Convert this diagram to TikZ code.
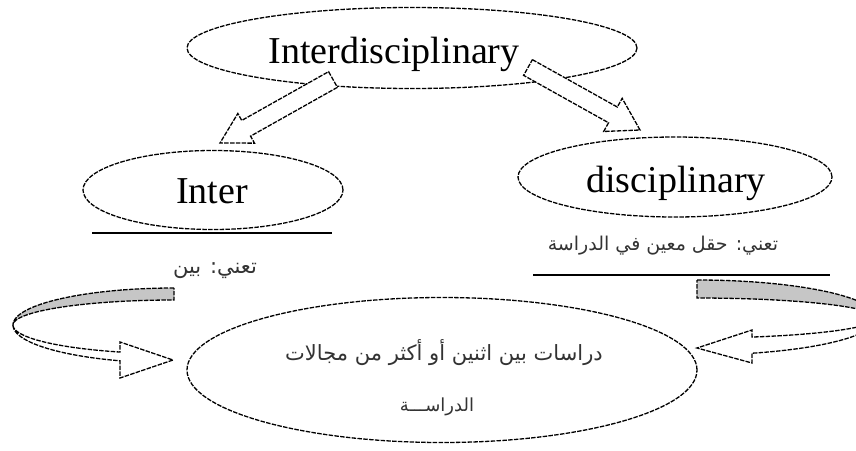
\documentclass[tikz,border=0pt]{standalone}
\usepackage{fontspec}
\setmainfont{Liberation Serif}
\newfontfamily\arabicfont[Script=Arabic]{DejaVu Sans}
\TeXXeTstate=1
\usetikzlibrary{shapes.geometric,calc}
\tikzset{
  outl/.style={draw=black, line width=1.3pt, dash pattern=on 4.5pt off 1.3pt},
  oval/.style={ellipse, outl, fill=white, inner sep=0pt},
  en/.style={font=\fontsize{38}{40}\selectfont, inner sep=0pt, anchor=base},
  ar/.style={font=\arabicfont, text=black!80, inner sep=0pt},
  uline/.style={draw=black, line width=1.5pt},
  band/.style={outl, fill=gray!45},
  blk/.style={outl, fill=white, line join=miter},
}
\newcommand{\blockarr}[5]{%
  \path ($(#2)!#5!(#1)$) coordinate (hb);
  \draw[blk] ($(#1)!#3!90:(#2)$) -- ($(hb)!#3!90:(#2)$) -- ($(hb)!#4!90:(#2)$)
    -- (#2) -- ($(hb)!#4!-90:(#2)$) -- ($(hb)!#3!-90:(#2)$) -- ($(#1)!#3!-90:(#2)$) -- cycle;
}
\begin{document}
\begin{tikzpicture}[x=1pt,y=-1pt]
\useasboundingbox (0,0) rectangle (856,450);
\clip (0,0) rectangle (856,450);

% ellipses
\node[oval, minimum width=450pt, minimum height=81pt] (top) at (412,48) {};
\node[oval, minimum width=260pt, minimum height=79pt] (inter) at (213,190) {};
\node[oval, minimum width=314pt, minimum height=80pt] (disc) at (675,177) {};
\node[oval, minimum width=510pt, minimum height=145pt] (study) at (442,370) {};

% texts
\node[en] (toptext) at (394,63) {Interdisciplinary};
\node[en] (intertext) at (212,203) {Inter};
\node[en] (disctext) at (676,192) {disciplinary};

% underlines
\coordinate (ul1a) at (92,233);  \coordinate (ul1b) at (332,233);
\coordinate (ul2a) at (533,275); \coordinate (ul2b) at (830,275);
\draw[uline] (ul1a) -- (ul1b);
\draw[uline] (ul2a) -- (ul2b);

% arabic labels
\node[ar, font=\arabicfont\fontsize{21}{24}\selectfont] (deflt) at (215,271) {\beginR تعني: بين\endR};
\node[ar, font=\arabicfont\fontsize{19}{22}\selectfont] (defrt) at (663,246) {\beginR تعني: حقل معين في الدراسة\endR};
\node[ar, font=\arabicfont\fontsize{21}{24}\selectfont] (studyl1) at (444,353) {\beginR دراسات بين اثنين أو أكثر من مجالات\endR};
\node[ar, font=\arabicfont\fontsize{18}{22}\selectfont] (studyl2) at (437,407) {\beginR الدراســـة\endR};

% straight block arrows
\coordinate (a1t) at (333,79.5); \coordinate (a1h) at (220,143);
\coordinate (a2t) at (528,67.5); \coordinate (a2h) at (640,130);
\blockarr{a1t}{a1h}{9pt}{17pt}{30pt}
\blockarr{a2t}{a2h}{9pt}{19pt}{31pt}

% left curved arrow
\draw[band] plot[domain=90:180, samples=40, variable=\t] ({174+161*cos(\t)},{325-37*sin(\t)})
  -- plot[domain=180:90, samples=40, variable=\t] ({174+161*cos(\t)},{325-25*sin(\t)}) -- cycle;
\draw[blk] plot[domain=180:109.6, samples=40, variable=\t] ({174+161*cos(\t)},{325+28.7*sin(\t)})
  -- (120,342) -- (173,360) -- (120,378) -- (120,362.8)
  -- plot[domain=109.6:180, samples=40, variable=\t] ({174+161*cos(\t)},{325+38*sin(\t)}) -- cycle;

% right curved arrow
\draw[band] plot[domain=90:0, samples=40, variable=\t] ({697+180*cos(\t)},{318-38*sin(\t)})
  -- plot[domain=0:90, samples=40, variable=\t] ({697+180*cos(\t)},{318-20*sin(\t)}) -- cycle;
\draw[blk] plot[domain=0:72.2, samples=40, variable=\t] ({697+180*cos(\t)},{318+20*sin(\t)})
  -- (752,330) -- (697,348) -- (752,363) -- (752,353.2)
  -- plot[domain=72.2:0, samples=40, variable=\t] ({697+180*cos(\t)},{318+37*sin(\t)}) -- cycle;
\end{tikzpicture}
\end{document}
